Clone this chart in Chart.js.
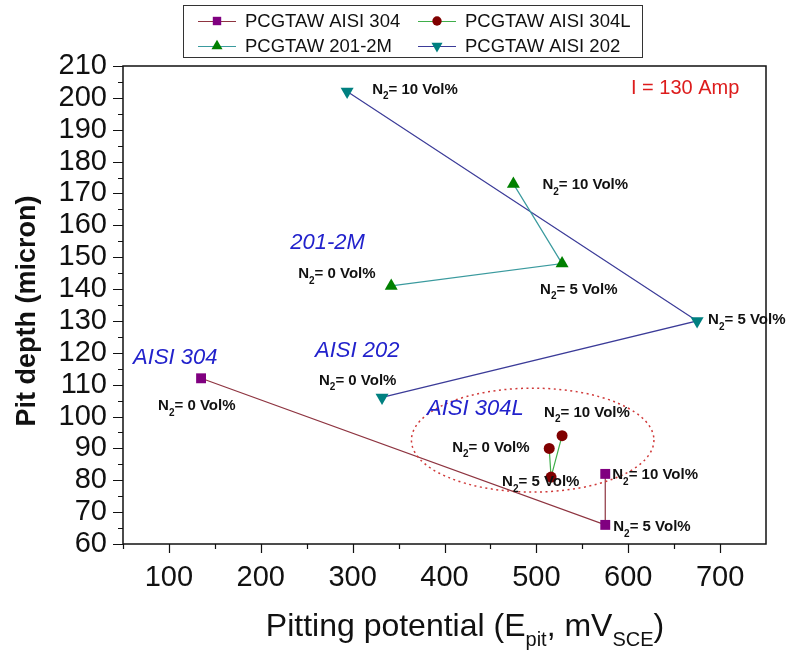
<!DOCTYPE html>
<html>
<head>
<meta charset="utf-8">
<script src="https://cdn.jsdelivr.net/npm/chart.js@4.4.1/dist/chart.umd.min.js"></script>
<style>
  html, body { margin: 0; padding: 0; background: #fff; }
  #wrap { width: 792px; height: 655px; }
</style>
</head>
<body>
<div id="wrap"><canvas id="c" width="792" height="655"></canvas></div>
<script>
// Pitting potential (mV SCE) vs pit depth (micron), one point per N2 level
const n2Levels = [0, 5, 10];
const seriesLabels = ['PCGTAW AISI 304', 'PCGTAW AISI 304L', 'PCGTAW 201-2M', 'PCGTAW AISI 202'];

const epit304   = [135, 575, 575];
const depth304  = [112, 66, 82];
const epit304L  = [514, 516, 528];
const depth304L = [90, 81, 94];
const epit2012M  = [342, 528, 475];
const depth2012M = [141, 148, 173];
const epit202   = [332, 675, 294];
const depth202  = [106, 130, 202];

const xTickValues = [100, 200, 300, 400, 500, 600, 700];
const yTickValues = [60, 70, 80, 90, 100, 110, 120, 130, 140, 150, 160, 170, 180, 190, 200, 210];

const FONT = "'Liberation Sans', Arial, sans-serif";

const STYLES = [
  { line: '#8e3440', fill: '#800080', pointStyle: 'rect',     radius: 7,   rotation: 0   },
  { line: '#3fae4a', fill: '#800000', pointStyle: 'circle',   radius: 5.5, rotation: 0   },
  { line: '#3a9a9e', fill: '#008000', pointStyle: 'triangle', radius: 7.5, rotation: 0   },
  { line: '#3b3b98', fill: '#008080', pointStyle: 'triangle', radius: 7.5, rotation: 180 },
];

const pairs = (xs, ys) => xs.map((v, i) => ({ x: v, y: ys[i] }));
const seriesData = [
  pairs(epit304, depth304),
  pairs(epit304L, depth304L),
  pairs(epit2012M, depth2012M),
  pairs(epit202, depth202),
];

// N2 labels: pixel offset of the label's left/middle from its point, per series and level
const n2LabelOffsets = [
  [[-43, 28], [8, 2], [7, 1]],
  [[-97, -1], [-49, 5], [-18, -23]],
  [[-93, -12], [-22, 26], [29, 1]],
  [[-63, -17], [11, -1], [25, -2]],
];

// alloy names in blue italics, anchored in data units (left, middle)
const alloyNotes = [
  { text: 'AISI 304',  x: 61,  y: 118.4 },
  { text: 'AISI 202',  x: 259, y: 120.6 },
  { text: '201-2M',    x: 232, y: 154.4 },
  { text: 'AISI 304L', x: 381, y: 102.4 },
];

const datasets = seriesData.map((d, i) => ({
  label: seriesLabels[i],
  data: d,
  showLine: true,
  borderColor: STYLES[i].line,
  borderWidth: 1.2,
  pointStyle: STYLES[i].pointStyle,
  pointRotation: STYLES[i].rotation,
  pointRadius: STYLES[i].radius,
  pointHoverRadius: STYLES[i].radius,
  pointBackgroundColor: STYLES[i].fill,
  pointBorderColor: STYLES[i].fill,
  pointBorderWidth: 0,
}));

function drawN2(ctx, x, y, level) {
  ctx.font = 'bold 15px ' + FONT;
  ctx.textAlign = 'left';
  ctx.textBaseline = 'middle';
  ctx.fillText('N', x, y);
  let cx = x + ctx.measureText('N').width;
  ctx.font = 'bold 10px ' + FONT;
  ctx.fillText('2', cx, y + 7);
  cx += ctx.measureText('2').width;
  ctx.font = 'bold 15px ' + FONT;
  ctx.fillText('= ' + level + ' Vol%', cx, y);
}

const overlay = {
  id: 'overlay',
  afterDraw(chart) {
    const { ctx, chartArea: a } = chart;
    const x = chart.scales.x, y = chart.scales.y;
    ctx.save();

    // frame and tick marks (outward, major + minor)
    ctx.strokeStyle = '#111';
    ctx.lineWidth = 1.5;
    ctx.strokeRect(a.left, a.top, a.right - a.left, a.bottom - a.top);
    ctx.lineWidth = 1.2;
    ctx.beginPath();
    for (let v = y.min; v <= y.max; v += 5) {
      const py = Math.round(y.getPixelForValue(v)) + 0.5;
      const len = v % 10 === 0 ? 10 : 5;
      ctx.moveTo(a.left - len, py);
      ctx.lineTo(a.left, py);
    }
    for (let v = x.min; v < x.max; v += 50) {
      const px = Math.round(x.getPixelForValue(v)) + 0.5;
      const len = v % 100 === 0 ? 9 : 5;
      ctx.moveTo(px, a.bottom);
      ctx.lineTo(px, a.bottom + len);
    }
    ctx.stroke();

    // dotted ellipse round the 304L group
    const ecx = x.getPixelForValue(496), ecy = y.getPixelForValue(92.6);
    const erx = x.getPixelForValue(496 + 132) - ecx;
    const ery = ecy - y.getPixelForValue(92.6 + 16.3);
    ctx.beginPath();
    ctx.ellipse(ecx, ecy, erx, ery, 0, 0, Math.PI * 2);
    ctx.strokeStyle = '#d03a3a';
    ctx.lineWidth = 1.5;
    ctx.setLineDash([2, 3.5]);
    ctx.stroke();
    ctx.setLineDash([]);

    // N2 labels next to each point
    ctx.fillStyle = '#111';
    seriesData.forEach((pts, s) => {
      pts.forEach((p, i) => {
        const px = x.getPixelForValue(p.x), py = y.getPixelForValue(p.y);
        const off = n2LabelOffsets[s][i];
        drawN2(ctx, px + off[0], py + off[1], n2Levels[i]);
      });
    });

    // alloy names
    ctx.fillStyle = '#2222cc';
    ctx.font = 'italic 22px ' + FONT;
    ctx.textBaseline = 'middle';
    ctx.textAlign = 'left';
    alloyNotes.forEach(n => ctx.fillText(n.text, x.getPixelForValue(n.x), y.getPixelForValue(n.y)));

    // current note
    ctx.fillStyle = '#dd1c1c';
    ctx.font = '20px ' + FONT;
    ctx.fillText('I = 130 Amp', x.getPixelForValue(603), y.getPixelForValue(202.8));

    // y axis title
    ctx.save();
    ctx.fillStyle = '#111';
    ctx.translate(35, 311);
    ctx.rotate(-Math.PI / 2);
    ctx.font = 'bold 27px ' + FONT;
    ctx.textAlign = 'center';
    ctx.textBaseline = 'alphabetic';
    ctx.fillText('Pit depth (micron)', 0, 0);
    ctx.restore();

    // x axis title with subscripts
    const parts = [
      ['Pitting potential (E', 32, 0], ['pit', 20, 10], [', mV', 32, 0], ['SCE', 20, 10], [')', 32, 0],
    ];
    ctx.fillStyle = '#111';
    ctx.textAlign = 'left';
    ctx.textBaseline = 'alphabetic';
    let total = 0;
    parts.forEach(p => { ctx.font = p[1] + 'px ' + FONT; total += ctx.measureText(p[0]).width; });
    let tx = 465 - total / 2;
    parts.forEach(p => {
      ctx.font = p[1] + 'px ' + FONT;
      ctx.fillText(p[0], tx, 636 + p[2]);
      tx += ctx.measureText(p[0]).width;
    });

    // legend box
    ctx.strokeStyle = '#333';
    ctx.lineWidth = 1;
    ctx.strokeRect(183.5, 5.5, 459, 52);
    const slots = [[198, 21], [418, 21], [198, 46], [418, 46]];
    chart.data.datasets.forEach((ds, i) => {
      const [lx, ly] = slots[i];
      const st = STYLES[i];
      ctx.strokeStyle = st.line;
      ctx.lineWidth = 1.2;
      ctx.beginPath();
      ctx.moveTo(lx, ly + 0.5);
      ctx.lineTo(lx + 38, ly + 0.5);
      ctx.stroke();
      ctx.fillStyle = st.fill;
      ctx.strokeStyle = st.fill;
      Chart.helpers.drawPoint(ctx, {
        pointStyle: st.pointStyle, rotation: st.rotation,
        radius: st.radius * 0.85, borderWidth: 0,
      }, lx + 19, ly);
      ctx.fillStyle = '#111';
      ctx.font = '18.5px ' + FONT;
      ctx.textAlign = 'left';
      ctx.textBaseline = 'middle';
      ctx.fillText(ds.label, lx + 47, ly + 1);
    });

    ctx.restore();
  },
};

new Chart(document.getElementById('c'), {
  type: 'scatter',
  data: { datasets },
  options: {
    responsive: false,
    animation: false,
    layout: { padding: { top: 66, right: 26, left: 0, bottom: 0 } },
    plugins: { legend: { display: false }, tooltip: { enabled: false } },
    scales: {
      x: {
        type: 'linear',
        min: 50,
        max: 750,
        afterBuildTicks(s) { s.ticks = xTickValues.map(v => ({ value: v })); },
        afterFit(s) { s.height = 111; },
        grid: { display: false, drawTicks: false },
        border: { display: false },
        ticks: {
          font: { family: FONT, size: 29 },
          color: '#111',
          padding: 17,
          maxRotation: 0,
          autoSkip: false,
        },
      },
      y: {
        type: 'linear',
        min: 60,
        max: 210,
        afterBuildTicks(s) { s.ticks = yTickValues.map(v => ({ value: v })); },
        afterFit(s) { s.width = 123; },
        grid: { display: false, drawTicks: false },
        border: { display: false },
        ticks: {
          font: { family: FONT, size: 29 },
          color: '#111',
          padding: 16,
          autoSkip: false,
        },
      },
    },
  },
  plugins: [overlay],
});
</script>
</body>
</html>
